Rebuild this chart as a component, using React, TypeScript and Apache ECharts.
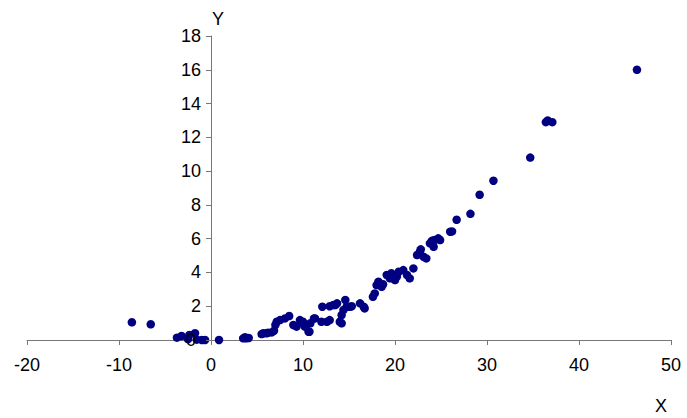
import React, { useEffect, useRef } from "react";
import * as echarts from "echarts";

const xTicks = [-20, -10, 0, 10, 20, 30, 40, 50];
const yTicks = [0, 2, 4, 6, 8, 10, 12, 14, 16, 18];

const xValues = [
  -8.6, -6.55, -3.7, -3.2, -2.5, -2.35, -1.74, -1.55, -1.0, -0.65, 0.87,
  3.5, 3.8, 4.1, 3.7,
  5.5, 5.7, 6.05, 6.2, 6.6, 6.85, 7.0,
  7.14, 7.5, 8.04, 8.5,
  8.95, 9.3, 9.67, 9.86, 10.0, 10.2, 10.4, 10.6, 10.7, 10.8, 11.2, 11.3,
  12.0, 12.6, 12.9, 12.1, 12.9, 13.3, 13.5, 13.7,
  14.0, 14.2, 14.2, 14.4, 14.6, 14.75, 15.1, 15.3,
  16.2, 16.6, 16.7,
  17.6, 17.8, 18.0, 18.2, 18.55, 18.7,
  19.1, 19.45, 19.6, 20.0, 20.2,
  20.4, 20.9, 21.3, 21.6, 22.0,
  22.4, 22.7, 23.1, 23.4, 22.8,
  23.8, 24.2, 24.3, 24.7, 24.9, 24.0,
  26.0, 26.2, 26.7, 28.2, 29.2, 30.7, 34.7, 36.4, 36.6, 37.1, 46.3,
];
const yValues = [
  1.05, 0.93, 0.14, 0.24, 0.05, 0.3, 0.4, 0.02, 0.0, 0.0, 0.0,
  0.1, 0.1, 0.12, 0.16,
  0.35, 0.4, 0.4, 0.43, 0.45, 0.55, 0.89,
  1.08, 1.18, 1.28, 1.42,
  0.89, 0.79, 1.18, 1.02, 1.08, 0.79, 0.89, 0.49, 0.49, 0.99, 1.28, 1.28,
  1.08, 1.08, 1.18, 1.97, 2.0, 2.07, 2.07, 2.17,
  1.08, 0.99, 1.48, 1.78, 2.37, 1.97, 1.97, 2.0,
  2.17, 1.97, 1.87,
  2.56, 2.76, 3.25, 3.45, 3.15, 3.3,
  3.85, 3.65, 3.95, 3.55, 3.75,
  4.04, 4.14, 3.85, 3.65, 4.24,
  5.03, 5.22, 4.93, 4.83, 5.37,
  5.72, 5.52, 5.92, 6.02, 5.92, 5.87,
  6.41, 6.43, 7.12, 7.47, 8.6, 9.43, 10.8, 12.9, 13.0, 12.9, 16.0,
];

export default function App() {
  const ref = useRef<HTMLDivElement>(null);
  useEffect(() => {
    if (!ref.current) return;
    const chart = echarts.init(ref.current, null, { renderer: "svg" });
    const data = xValues.map((x, i) => [x, yValues[i]]);
    const font = "'Liberation Sans', Arial, sans-serif";
    const gridLeft = 27;
    const gridRight = 16;
    const plotWidth = 687 - gridLeft - gridRight;
    const xMin = xTicks[0];
    const xMax = xTicks[xTicks.length - 1];
    const yMin = yTicks[0];
    // shift the y axis so that it sits at x = 0, labels included
    const yAxisOffset = -((0 - xMin) / (xMax - xMin)) * plotWidth;
    chart.setOption({
      animation: false,
      backgroundColor: "#ffffff",
      grid: { left: gridLeft, right: gridRight, top: 36, bottom: 78, containLabel: false },
      xAxis: {
        type: "value",
        min: xMin,
        max: xMax,
        interval: 10,
        z: 1,
        splitLine: { show: false },
        axisLine: { show: true, onZero: false, lineStyle: { color: "#777777", width: 1 } },
        axisTick: { show: true, length: 5, lineStyle: { color: "#777777" } },
        axisLabel: { color: "#000000", fontSize: 18, fontFamily: font, margin: 16, showMinLabel: true, showMaxLabel: true },
      },
      yAxis: {
        type: "value",
        position: "left",
        offset: yAxisOffset,
        min: yMin,
        max: yTicks[yTicks.length - 1],
        interval: 2,
        z: 10,
        splitLine: { show: false },
        axisLine: { show: true, onZero: false, lineStyle: { color: "#777777", width: 1 } },
        axisTick: { show: true, length: 5, lineStyle: { color: "#777777" } },
        axisLabel: {
          color: "#000000",
          fontSize: 18,
          fontFamily: font,
          margin: 10,
          showMinLabel: true,
          showMaxLabel: true,
          formatter: (v: number) => (v === yMin ? "" : String(v)),
        },
      },
      series: [
        {
          type: "scatter",
          data,
          symbol: "circle",
          symbolSize: 8.5,
          itemStyle: { color: "#000080", opacity: 1 },
          z: 2,
        },
      ],
    });
    // the origin label of the y axis, placed through the chart's own scale
    const origin = chart.convertToPixel({ gridIndex: 0 }, [0, yMin]) as number[];
    chart.setOption({
      graphic: [
        {
          type: "text",
          x: 661,
          y: 406,
          style: { text: "X", fontSize: 18, fontFamily: font, fill: "#000000", align: "center", verticalAlign: "middle" },
        },
        {
          type: "text",
          x: 218,
          y: 19,
          style: { text: "Y", fontSize: 18, fontFamily: font, fill: "#000000", align: "center", verticalAlign: "middle" },
        },
        {
          type: "text",
          x: origin[0] - 15,
          y: origin[1],
          z: 100,
          style: { text: String(yMin), fontSize: 18, fontFamily: font, fill: "#000000", align: "right", verticalAlign: "middle" },
        },
      ],
    });
    return () => chart.dispose();
  }, []);
  return (
    <div
      ref={ref}
      style={{ position: "fixed", left: 0, top: 0, width: 687, height: 418 }}
    />
  );
}
